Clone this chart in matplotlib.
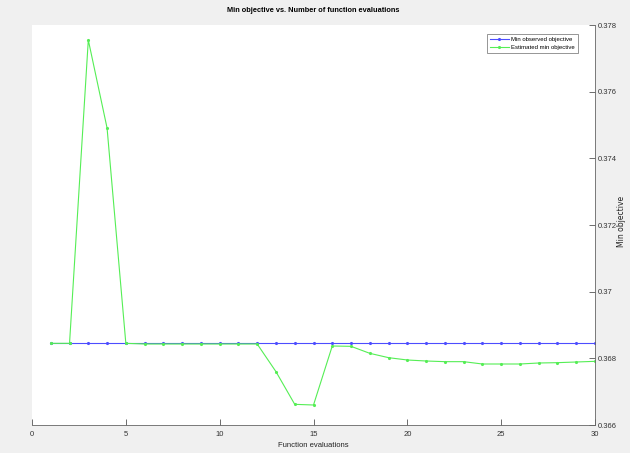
import matplotlib
matplotlib.use("Agg")
import matplotlib.pyplot as plt
from matplotlib import font_manager

evals = list(range(1, 31))
min_observed = [0.36845] * 30
est_min = [
    0.36845, 0.36845, 0.37755, 0.37491, 0.36845, 0.36843, 0.36843, 0.36843,
    0.36843, 0.36843, 0.36843, 0.36843, 0.36760, 0.36662, 0.36660, 0.36837,
    0.36836, 0.36815, 0.36802, 0.36795, 0.36792, 0.36790, 0.36790, 0.36783,
    0.36783, 0.36783, 0.36786, 0.36787, 0.36789, 0.36791,
]
xticks = [0, 5, 10, 15, 20, 25, 30]
yticks = [0.366, 0.368, 0.370, 0.372, 0.374, 0.376, 0.378]
ytick_labels = ["0.366", "0.368", "0.37", "0.372", "0.374", "0.376", "0.378"]

names = {f.name for f in font_manager.fontManager.ttflist}
narrow = "Liberation Sans Narrow" if "Liberation Sans Narrow" in names else "Liberation Sans"
plt.rcParams["font.family"] = [narrow, "DejaVu Sans"]

fig = plt.figure(figsize=(6.3, 4.53), dpi=100, facecolor="#f0f0f0")
ax = fig.add_axes([32 / 630, 1 - 425 / 453, (595 - 32) / 630, 400 / 453])
ax.set_facecolor("white")

ax.plot(evals, min_observed, color="#4d4dff", lw=0.8, marker=".", ms=2.5,
        label="Min observed objective")
ax.plot(evals, est_min, color="#55ee55", lw=0.8, marker=".", ms=2.5,
        label="Estimated min objective")

ax.set_xlim(0, 30)
ax.set_ylim(0.366, 0.378)
ax.set_xticks(xticks)
ax.set_yticks(yticks)
ax.set_yticklabels(ytick_labels)
ax.yaxis.tick_right()
ax.yaxis.set_label_position("right")
ax.tick_params(direction="in", length=4, width=0.6, color="#555555",
               labelsize=5.5, labelcolor="#333333", pad=2)
ax.tick_params(axis="x", pad=4)

for side in ["top", "left"]:
    ax.spines[side].set_visible(False)
for side in ["bottom", "right"]:
    ax.spines[side].set_color("#666666")
    ax.spines[side].set_linewidth(0.6)

ax.set_title("Min objective vs. Number of function evaluations",
             fontsize=5.3, fontweight="bold", pad=9)
ax.set_xlabel("Function evaluations", fontsize=5.5, labelpad=3, color="#222222")
ax.set_ylabel("Min objective", fontsize=5.5, color="#222222",
              family="DejaVu Sans", rotation=90, va="center")
ax.yaxis.set_label_coords((622 - 32) / 563, 0.51)

leg = ax.legend(loc="upper right", fontsize=4.3, frameon=True, fancybox=False,
                borderpad=0.5, handlelength=3.2, labelspacing=0.5,
                handletextpad=0.4, bbox_to_anchor=(0.975, 0.985))
leg.get_frame().set_edgecolor("#666666")
leg.get_frame().set_linewidth(0.6)

fig.savefig("out.png", dpi=100, facecolor=fig.get_facecolor())
